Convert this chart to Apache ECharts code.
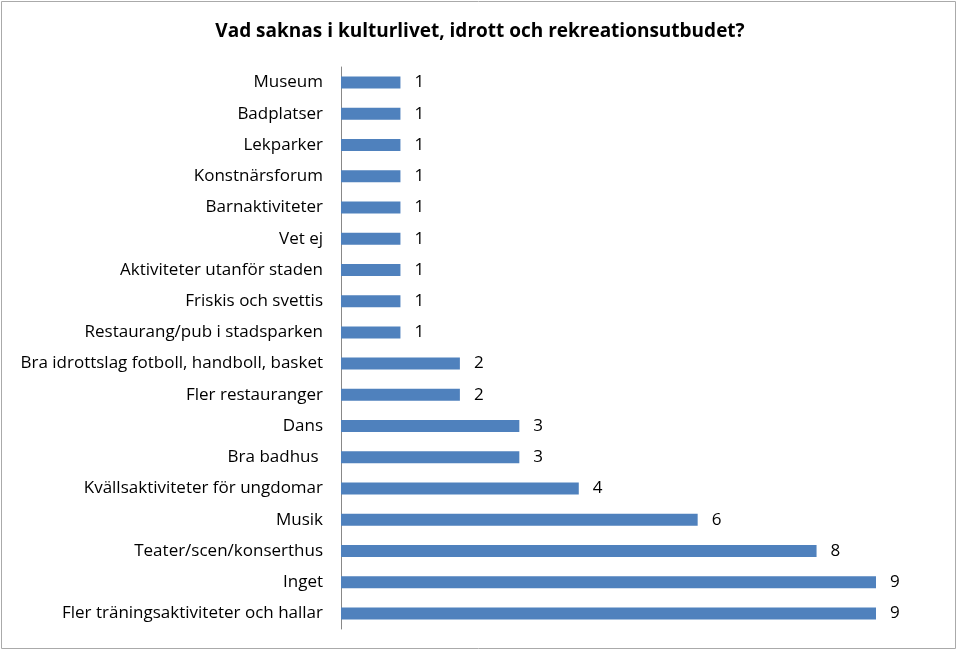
<!DOCTYPE html>
<html>
<head>
<meta charset="utf-8">
<script src="https://cdn.jsdelivr.net/npm/echarts@6/dist/echarts.min.js"></script>
<style>
  html, body { margin: 0; padding: 0; background: #fff; }
  #chart { width: 959px; height: 652px; }
</style>
</head>
<body>
<div id="chart"></div>
<script>
// kategorier, uppifrån och ner
var categories = [
  'Museum', 'Badplatser', 'Lekparker', 'Konstnärsforum', 'Barnaktiviteter',
  'Vet ej', 'Aktiviteter utanför staden', 'Friskis och svettis',
  'Restaurang/pub i stadsparken', 'Bra idrottslag fotboll, handboll, basket',
  'Fler restauranger', 'Dans', 'Bra badhus ', 'Kvällsaktiviteter för ungdomar',
  'Musik', 'Teater/scen/konserthus', 'Inget', 'Fler träningsaktiviteter och hallar'
];
var values = [1, 1, 1, 1, 1, 1, 1, 1, 1, 2, 2, 3, 3, 4, 6, 8, 9, 9];
var titleText = 'Vad saknas i kulturlivet, idrott och rekreationsutbudet?';

var font = '"Open Sans", "Noto Sans", sans-serif';

var chart = echarts.init(document.getElementById('chart'));
var option = {
  animation: false,
  backgroundColor: '#fff',
  title: {
    text: titleText,
    left: 475,
    textAlign: 'center',
    top: 17,
    textStyle: { fontFamily: font, fontSize: 19, fontWeight: 'bold', color: '#000' }
  },
  graphic: [{
    type: 'rect',
    shape: { x: 1.5, y: 1.5, width: 954, height: 647 },
    style: { fill: 'none', stroke: '#aaa', lineWidth: 1 },
    silent: true
  }],
  grid: { left: 341, right: 83, top: 67, bottom: 23, containLabel: false },
  xAxis: {
    type: 'value',
    min: 0,
    max: 9,
    show: false
  },
  yAxis: {
    type: 'category',
    inverse: true,
    data: categories,
    axisLine: { show: true, lineStyle: { color: '#888', width: 1 } },
    axisTick: { show: false },
    axisLabel: { margin: 18, color: '#000', fontFamily: font, fontSize: 17 }
  },
  series: [{
    type: 'bar',
    data: values,
    barWidth: 12,
    itemStyle: { color: '#4f81bd' },
    label: {
      show: true,
      position: 'right',
      distance: 14,
      color: '#000',
      fontFamily: font,
      fontSize: 17
    }
  }]
};
chart.setOption(option);
</script>
</body>
</html>
